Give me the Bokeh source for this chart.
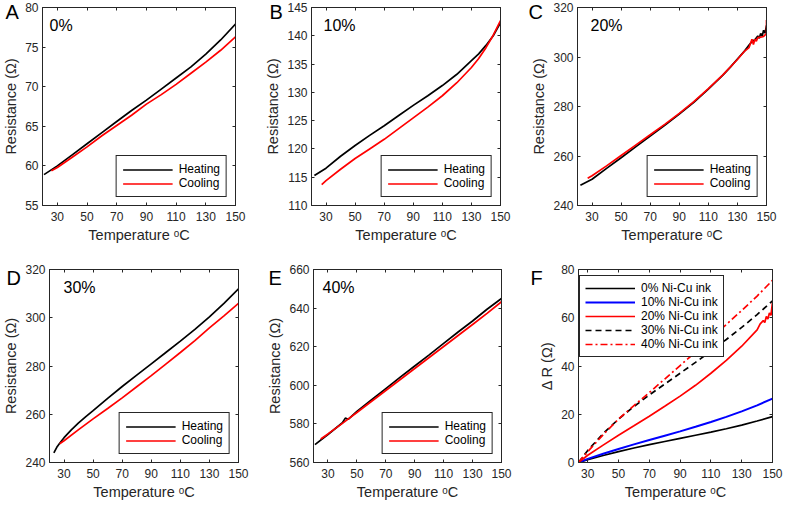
from bokeh.plotting import figure
from bokeh.models import Range1d, FixedTicker, LinearAxis, Label
from bokeh.layouts import row, column
from bokeh.embed import file_html
from bokeh.resources import INLINE

# ---------------- data ----------------
x_ticks = [30, 50, 70, 90, 110, 130, 150]

# A: 0%
a_heat_t = [21, 30, 40, 50, 60, 70, 80, 90, 100, 110, 120, 130, 140, 150]
a_heat_r = [58.9, 60.0, 61.4, 62.8, 64.2, 65.6, 67.0, 68.3, 69.7, 71.1, 72.5, 74.1, 75.9, 77.9]
a_cool_t = [26, 30, 40, 50, 60, 70, 80, 90, 100, 110, 120, 130, 140, 150]
a_cool_r = [59.4, 59.8, 61.1, 62.4, 63.8, 65.1, 66.4, 67.8, 69.0, 70.3, 71.7, 73.1, 74.6, 76.3]
a_yticks = [55, 60, 65, 70, 75, 80]

# B: 10%
b_heat_t = [22, 30, 40, 50, 60, 70, 80, 90, 100, 110, 120, 130, 135, 140, 145, 150]
b_heat_r = [115.3, 116.6, 118.7, 120.6, 122.4, 124.1, 125.9, 127.7, 129.4, 131.2, 133.2, 135.6, 136.8, 138.3, 140.0, 142.3]
b_cool_t = [27, 30, 40, 50, 60, 70, 80, 90, 100, 110, 120, 130, 135, 140, 145, 150]
b_cool_r = [113.7, 114.4, 116.4, 118.3, 120.0, 121.7, 123.6, 125.5, 127.4, 129.4, 131.7, 134.4, 136.0, 137.9, 140.1, 142.7]
b_yticks = [110, 115, 120, 125, 130, 135, 140, 145]

# C: 20%
c_heat_t = [22, 30, 40, 50, 60, 70, 80, 90, 100, 110, 120, 125, 130, 135, 138, 140, 142, 144, 145, 146, 147, 148, 149, 150, 150]
c_heat_r = [248.2, 250.6, 255.0, 259.3, 263.7, 268.1, 272.4, 276.9, 281.7, 287.0, 292.7, 295.8, 299.2, 302.5, 304.8,
            306.3, 307.0, 308.5, 307.6, 309.5, 308.4, 310.8, 309.6, 312.8, 310.0]
c_cool_t = [27, 30, 40, 50, 60, 70, 80, 90, 100, 110, 120, 130, 135, 138, 140, 141, 142, 143, 144, 146, 148, 150, 150]
c_cool_r = [251.0, 252.0, 256.0, 260.2, 264.4, 268.6, 272.8, 277.2, 282.0, 287.2, 292.8, 299.0, 302.4, 303.8,
            307.2, 305.0, 307.2, 306.4, 307.8, 308.0, 308.3, 309.5, 315.0]
c_yticks = [240, 260, 280, 300, 320]

# D: 30%
d_heat_t = [23, 25, 27, 30, 35, 40, 45, 50, 60, 70, 80, 90, 100, 110, 120, 130, 140, 150]
d_heat_r = [244.0, 246.3, 248.0, 250.3, 253.5, 256.4, 259.0, 261.5, 266.6, 271.5, 276.2, 280.9, 285.6, 290.3,
            295.2, 300.4, 306.0, 312.0]
d_cool_t = [27, 30, 40, 50, 60, 70, 80, 90, 100, 110, 120, 130, 140, 150]
d_cool_r = [247.8, 249.0, 253.6, 258.1, 262.4, 266.8, 271.4, 276.0, 280.8, 285.6, 290.5, 295.8, 300.8, 306.0]
d_yticks = [240, 260, 280, 300, 320]

# E: 40%
e_heat_t = [21, 30, 40, 42, 44, 50, 60, 70, 80, 90, 100, 110, 120, 130, 140, 150]
e_heat_r = [569.3, 574.5, 580.6, 583.0, 582.4, 586.5, 592.4, 598.3, 604.2, 610.0, 615.8, 621.7, 627.6, 633.3, 639.4, 645.0]
e_cool_t = [25, 30, 40, 50, 60, 70, 80, 90, 100, 110, 120, 130, 140, 150]
e_cool_r = [572.2, 574.8, 580.3, 585.9, 591.6, 597.3, 603.0, 608.7, 614.4, 620.1, 625.8, 631.5, 637.3, 643.3]
e_yticks = [560, 580, 600, 620, 640, 660]

# F: delta R
f_t = [24, 30, 40, 50, 60, 70, 80, 90, 100, 110, 120, 130, 140, 150]
f_r0 = [0, 1.2, 2.9, 4.5, 6.0, 7.4, 8.7, 10.0, 11.3, 12.6, 14.0, 15.5, 17.2, 19.0]
f_r10 = [0, 1.5, 3.6, 5.6, 7.5, 9.3, 11.1, 12.9, 14.8, 16.8, 18.9, 21.2, 23.7, 26.5]
f_r20_t = [24, 30, 40, 50, 60, 70, 80, 90, 100, 110, 120, 130, 140, 142, 144, 145, 146, 147, 148, 149, 150, 150]
f_r20 = [0, 3.0, 7.2, 11.3, 15.2, 19.2, 23.3, 27.5, 32.0, 37.0, 42.3, 48.2, 55.0, 57.5, 58.8, 58.0, 60.5, 59.5,
         62.0, 61.0, 66.5, 61.0]
f_r30 = [0, 5.0, 12.0, 18.0, 23.2, 28.0, 32.5, 37.0, 41.5, 46.2, 51.0, 56.0, 61.3, 67.0]
f_r40 = [0, 4.5, 11.5, 18.0, 23.6, 29.0, 34.6, 40.2, 45.8, 51.5, 57.2, 63.0, 69.0, 75.5]
f_yticks = [0, 20, 40, 60, 80]

FONT = "Liberation Sans"
AX = "#262626"
XLAB = "Temperature \u1d52C"
YLAB = "Resistance (\u03a9)"


def panel(width, height, left, right, top, bottom, xr, yr, yticks, letter, letter_dx, letter_sd, tag, tag_dx,
          ylab=YLAB):
    p = figure(width=width, height=height, output_backend="svg", toolbar_location=None,
               x_range=Range1d(*xr), y_range=Range1d(*yr),
               min_border_left=left, min_border_right=right,
               min_border_top=top, min_border_bottom=bottom,
               x_axis_label=XLAB, y_axis_label=ylab)
    # panel letter drawn as the (non-clipped) title, pulled down beside the frame
    p.title.text = letter
    p.title.align = "left"
    p.title.vertical_align = "bottom"
    p.title.offset = letter_dx
    p.title.standoff = letter_sd
    p.title.text_font = FONT
    p.title.text_font_size = "20px"
    p.title.text_font_style = "normal"
    p.title.text_color = "black"
    p.xgrid.visible = False
    p.ygrid.visible = False
    p.background_fill_color = "white"
    p.border_fill_color = "white"
    p.outline_line_color = AX
    p.outline_line_width = 1
    p.outline_line_alpha = 1
    p.xaxis.ticker = FixedTicker(ticks=x_ticks)
    p.yaxis.ticker = FixedTicker(ticks=yticks)
    for ax in (p.xaxis[0], p.yaxis[0]):
        ax.axis_line_color = AX
        ax.major_tick_line_color = AX
        ax.major_tick_in = 3
        ax.major_tick_out = 0
        ax.minor_tick_line_color = None
        ax.major_label_text_font = FONT
        ax.major_label_text_font_size = "12px"
        ax.major_label_text_color = AX
        ax.axis_label_text_font = FONT
        ax.axis_label_text_font_size = "14.5px"
        ax.axis_label_text_font_style = "normal"
        ax.axis_label_text_color = AX
        ax.axis_label_standoff = 3
    p.xaxis.major_label_standoff = 6
    p.yaxis.major_label_standoff = 4
    for loc, tk in (("right", yticks), ("above", x_ticks)):
        ax = LinearAxis(ticker=FixedTicker(ticks=tk))
        ax.axis_line_color = AX
        ax.major_tick_line_color = AX
        ax.major_tick_in = 3
        ax.major_tick_out = 0
        ax.minor_tick_line_color = None
        ax.major_label_text_font_size = "0px"
        ax.major_label_text_color = None
        ax.major_label_standoff = 0
        p.add_layout(ax, loc)
    if tag:
        p.add_layout(Label(x=xr[0], y=yr[1], x_offset=tag_dx, y_offset=-9, text=tag,
                           text_baseline="top", text_align="left", text_font=FONT,
                           text_font_size="16px", text_color="black"))
    return p


def style_legend(p, location, pad=6, spacing=0, h=13, margin=8):
    lg = p.legend[0]
    lg.location = location
    lg.margin = margin
    lg.padding = pad
    lg.spacing = spacing
    lg.glyph_width = 50
    lg.glyph_height = h
    lg.label_height = h
    lg.label_standoff = 6
    lg.label_text_font = FONT
    lg.label_text_font_size = "12px"
    lg.label_text_color = "black"
    lg.border_line_color = AX
    lg.border_line_width = 1
    lg.border_line_alpha = 1
    lg.background_fill_alpha = 1


def hc(p, ht, hr, ct, cr):
    p.line(ht, hr, line_color="black", line_width=1.7, legend_label="Heating")
    p.line(ct, cr, line_color="#ff0000", line_width=1.7, legend_label="Cooling")
    style_legend(p, "bottom_right")


XR = (20, 150)
pa = panel(262, 254, 40, 27, 7, 49, XR, (55, 80), a_yticks, "A", -37, -30, "0%", 7)
hc(pa, a_heat_t, a_heat_r, a_cool_t, a_cool_r)
pb = panel(262, 254, 49, 24, 7, 49, XR, (110, 145), b_yticks, "B", -42, -30, "10%", 12)
hc(pb, b_heat_t, b_heat_r, b_cool_t, b_cool_r)
pc = panel(262, 254, 53, 20, 7, 49, XR, (240, 320), c_yticks, "C", -49, -30, "20%", 13)
hc(pc, c_heat_t, c_heat_r, c_cool_t, c_cool_r)

pd = panel(262, 254, 49, 24, 14, 42, XR, (240, 320), d_yticks, "D", -43, -38, "30%", 14)
hc(pd, d_heat_t, d_heat_r, d_cool_t, d_cool_r)
pe = panel(262, 254, 51, 23, 15, 42, XR, (560, 660), e_yticks, "E", -45, -38, "40%", 9)
hc(pe, e_heat_t, e_heat_r, e_cool_t, e_cool_r)

pf = panel(262, 254, 54, 14, 10, 46, (24, 150), (0, 80), f_yticks, "F", -48, -38, None, 0,
           ylab="\u0394 R (\u03a9)")
pf.line(f_t, f_r0, line_color="black", line_width=1.7, legend_label="0% Ni-Cu ink")
pf.line(f_t, f_r10, line_color="#0000ff", line_width=2.0, legend_label="10% Ni-Cu ink")
pf.line(f_r20_t, f_r20, line_color="#ff0000", line_width=1.7, legend_label="20% Ni-Cu ink")
pf.line(f_t, f_r30, line_color="black", line_width=1.7, line_dash="6 4", legend_label="30% Ni-Cu ink")
pf.line(f_t, f_r40, line_color="#ff0000", line_width=1.7, line_dash="7 3 2 3", legend_label="40% Ni-Cu ink")
style_legend(pf, (1, 198 - 9 - 84), pad=5, spacing=0, h=14, margin=0)

layout = column(row(pa, pb, pc), row(pd, pe, pf))

with open("out.html", "w") as fh:
    fh.write(file_html(layout, INLINE))
